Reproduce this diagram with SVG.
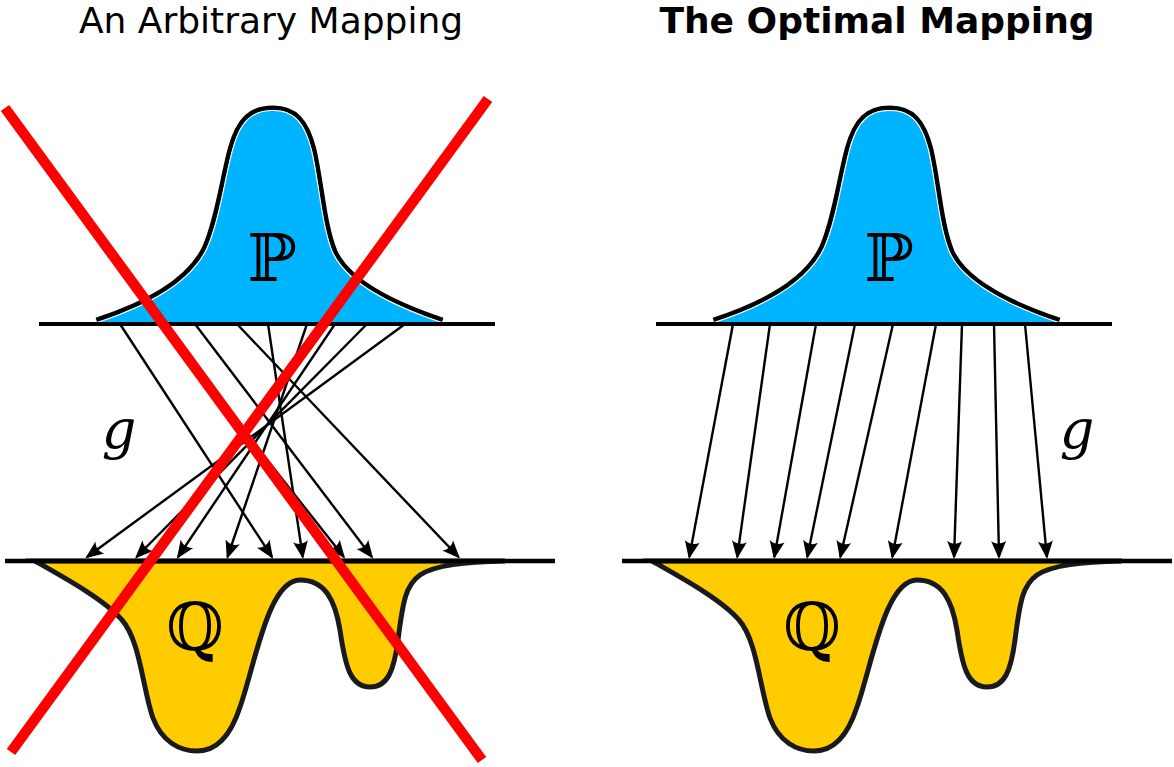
<svg xmlns="http://www.w3.org/2000/svg" width="1174" height="767" viewBox="0 0 1174 767">
<style>
.title{font-family:"DejaVu Sans","Noto Sans",sans-serif;font-size:36px;fill:#000;text-anchor:middle}
.bb{font-family:"DejaVu Serif","DejaVu Sans",serif;font-size:66px;fill:#000;text-anchor:middle}
.g{font-family:"DejaVu Serif","Liberation Serif",serif;font-style:italic;font-size:54px;fill:#000;text-anchor:middle}
.axis{stroke:#000;stroke-width:4;fill:none}
.axisb{stroke:#000;stroke-width:4.5;fill:none}
.pout{fill:none;stroke:#000;stroke-width:9}
.pfill{fill:#00b4ff;stroke:none}
.pwhite{fill:none;stroke:#fff;stroke-width:2.2}
.q{fill:#ffcc00;stroke:#1a1a1a;stroke-width:5}
.arr{stroke:#000;stroke-width:2.4;fill:none;marker-end:url(#ah)}
.red{stroke:#ff0000;stroke-width:10.5;fill:none}
</style>
<defs>
<marker id="ah" viewBox="-18 -9 21 18" refX="0" refY="0" markerWidth="21" markerHeight="18" markerUnits="userSpaceOnUse" orient="auto">
<path d="M2,0 L-16,-7.5 C-12.5,-3 -12.5,3 -16,7.5 Z" fill="#000"/>
</marker>
<path id="pcurve" d="M97 322 C140 308 190 285 207 247 C219 220 224 180 232 150 C240 120 252 110 273 110 C294 110 305 122 312 150 C320 185 322 225 333 252 C348 285 400 308 442 322"/>
<clipPath id="pclip"><path d="M97 322 C140 308 190 285 207 247 C219 220 224 180 232 150 C240 120 252 110 273 110 C294 110 305 122 312 150 C320 185 322 225 333 252 C348 285 400 308 442 322 Z"/></clipPath>
<path id="qshape" d="M35 561 C65 578 105 600 122 620 C140 640 143 690 153 718 C162 742 180 751 197 751 C215 751 230 738 240 707 C255 665 268 580 300 580 C325 580 335 600 340 630 C345 665 350 687 370 687 C388 687 394 670 398 640 C403 600 406 585 420 575 C435 565 465 562 505 561 Z"/>
</defs>

<rect width="1174" height="767" fill="#fff"/>

<text class="title" x="271" y="33">An Arbitrary Mapping</text>
<text class="title" x="877" y="33" font-weight="bold">The Optimal Mapping</text>

<g id="P-left">
<use href="#pcurve" class="pout"/>
<path class="pfill" d="M97 322 C140 308 190 285 207 247 C219 220 224 180 232 150 C240 120 252 110 273 110 C294 110 305 122 312 150 C320 185 322 225 333 252 C348 285 400 308 442 322 Z"/>
<use href="#pcurve" class="pwhite" clip-path="url(#pclip)"/>
<text class="bb" x="272" y="281">ℙ</text>
</g>
<g id="Q-left">
<use href="#qshape" class="q"/>
<text class="bb" x="195" y="650">ℚ</text>
</g>
<g id="axes-left">
<line class="axis" x1="39" y1="324" x2="495" y2="324"/>
<line class="axisb" x1="5" y1="561" x2="555" y2="561"/>
</g>
<text id="g-left" class="g" x="119" y="448">g</text>

<g id="P-right" transform="translate(617,0)">
<use href="#pcurve" class="pout"/>
<path class="pfill" d="M97 322 C140 308 190 285 207 247 C219 220 224 180 232 150 C240 120 252 110 273 110 C294 110 305 122 312 150 C320 185 322 225 333 252 C348 285 400 308 442 322 Z"/>
<use href="#pcurve" class="pwhite" clip-path="url(#pclip)"/>
<text class="bb" x="272" y="281">ℙ</text>
</g>
<g id="Q-right" transform="translate(617,0)">
<use href="#qshape" class="q"/>
<text class="bb" x="195" y="650">ℚ</text>
</g>
<g id="axes-right">
<line class="axis" x1="656" y1="324" x2="1112" y2="324"/>
<line class="axisb" x1="622" y1="561" x2="1172" y2="561"/>
</g>
<text id="g-right" class="g" x="1077" y="448">g</text>

<g id="connectors">
<line class="arr" x1="120" y1="324" x2="272" y2="557"/>
<line class="arr" x1="160" y1="324" x2="343.8" y2="557"/>
<line class="arr" x1="195" y1="324" x2="371.9" y2="557"/>
<line class="arr" x1="237" y1="324" x2="458.6" y2="557"/>
<line class="arr" x1="268" y1="324" x2="302.8" y2="557"/>
<line class="arr" x1="307" y1="324" x2="227.5" y2="557"/>
<line class="arr" x1="335" y1="324" x2="178" y2="557"/>
<line class="arr" x1="367" y1="324" x2="136.5" y2="557"/>
<line class="arr" x1="405" y1="324" x2="87" y2="557"/>

<line class="arr" x1="733" y1="324" x2="689.3" y2="557"/>
<line class="arr" x1="770" y1="324" x2="737.2" y2="557"/>
<line class="arr" x1="816" y1="324" x2="774.3" y2="557"/>
<line class="arr" x1="855" y1="324" x2="807.3" y2="557"/>
<line class="arr" x1="893" y1="324" x2="840.3" y2="557"/>
<line class="arr" x1="936" y1="324" x2="892.3" y2="557"/>
<line class="arr" x1="962" y1="324" x2="954.05" y2="557"/>
<line class="arr" x1="994" y1="324" x2="999" y2="557"/>
<line class="arr" x1="1025" y1="324" x2="1046.9" y2="557"/>
</g>

<g id="cross">
<line class="red" x1="5" y1="108" x2="482" y2="760"/>
<line class="red" x1="488" y1="99" x2="11" y2="752"/>
</g>
</svg>
